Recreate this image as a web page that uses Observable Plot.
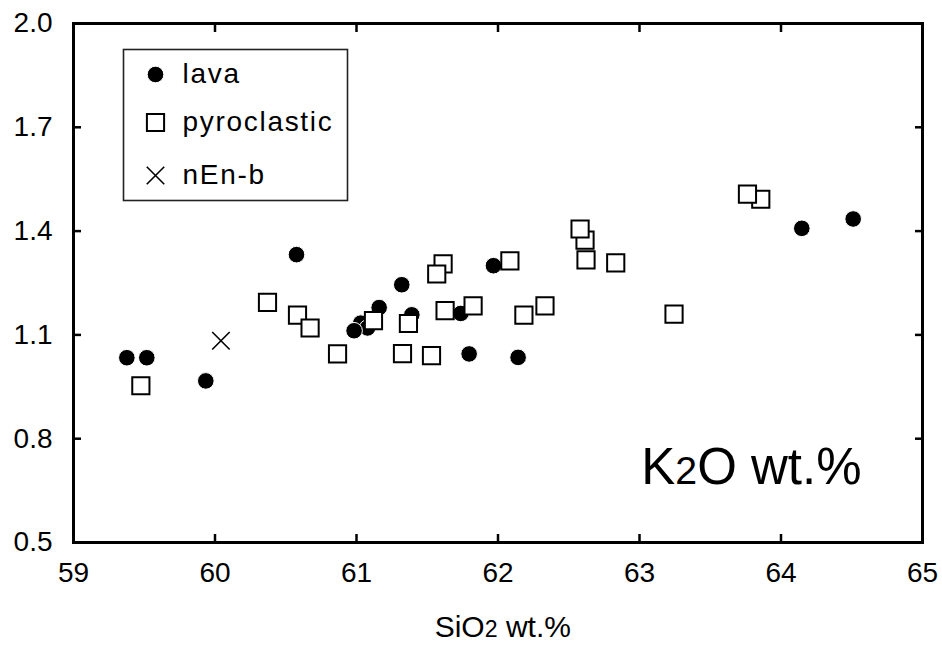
<!DOCTYPE html>
<html>
<head>
<meta charset="utf-8">
<script src="https://cdn.jsdelivr.net/npm/d3@7"></script>
<script src="https://cdn.jsdelivr.net/npm/@observablehq/plot@0.6"></script>
<style>
  html, body { margin: 0; padding: 0; background: #fff; }
  #chart svg { display: block; }
</style>
</head>
<body>
<div id="chart"></div>
<script>
// ---- data ----
const lavaSiO2 = [59.377, 59.518, 59.935, 60.576, 61.030, 61.078, 60.983, 61.160, 61.320, 61.391, 61.737, 61.968, 61.796, 62.142, 64.147, 64.510];
const lavaK2O  = [1.034, 1.034, 0.967, 1.332, 1.134, 1.120, 1.112, 1.179, 1.245, 1.158, 1.162, 1.300, 1.045, 1.035, 1.408, 1.435];

const pyroSiO2 = [59.476, 60.371, 60.583, 60.672, 60.866, 61.120, 61.612, 61.567, 61.626, 61.824, 61.367, 61.325, 61.530, 62.084, 62.183, 62.332, 62.622, 62.615, 62.580, 62.832, 63.244, 63.857, 63.763];
const pyroK2O  = [0.953, 1.194, 1.157, 1.120, 1.045, 1.141, 1.305, 1.276, 1.170, 1.184, 1.133, 1.046, 1.040, 1.314, 1.157, 1.184, 1.317, 1.374, 1.406, 1.308, 1.160, 1.492, 1.507];

const nEnSiO2 = [60.042];
const nEnK2O  = [1.083];

const seriesNames = ["lava", "pyroclastic", "nEn-b"];
const xTicks = [59, 60, 61, 62, 63, 64, 65];
const yTicks = [0.5, 0.8, 1.1, 1.4, 1.7, 2.0];
const xLabel = "SiO2 wt.%";
const panelLabel = "K2O wt.%";

// ---- tables ----
const lava = lavaSiO2.map((x, i) => ({x, y: lavaK2O[i]}));
const pyro = pyroSiO2.map((x, i) => ({x, y: pyroK2O[i]}));
const nEn = nEnSiO2.map((x, i) => ({x, y: nEnK2O[i]}));

const styleLava = {symbol: "circle", r: 8.3, fill: "black", stroke: "white", strokeWidth: 1};
const stylePyro = {symbol: "square", r: 9.7, fill: "white", stroke: "black", strokeWidth: 2};
const styleNEn  = {symbol: "times", r: 8, fill: "none", stroke: "black", strokeWidth: 1.6};
const legendStyles = [styleLava, stylePyro, styleNEn];
const legendDy = [51, 99, 152];

const legendMarks = [];
seriesNames.forEach((name, i) => {
  legendMarks.push(Plot.dot([name], {frameAnchor: "top-left", dx: 82, dy: legendDy[i], ...legendStyles[i]}));
  legendMarks.push(Plot.text([name], {text: d => d, frameAnchor: "top-left", dx: 109, dy: legendDy[i], textAnchor: "start", lineAnchor: "middle", fontSize: 28, fill: "black"}));
});

const chart = Plot.plot({
  width: 942,
  height: 646,
  marginLeft: 73,
  marginRight: 20,
  marginTop: 23,
  marginBottom: 104,
  x: {domain: [59, 65]},
  y: {domain: [0.5, 2.0]},
  style: {fontFamily: "'Liberation Sans', Arial, Helvetica, sans-serif", background: "white", color: "black"},
  marks: [
    // tick labels
    Plot.axisX(xTicks, {tickSize: 0, tickPadding: 20, fontSize: 28, label: null, tickFormat: d => String(d)}),
    Plot.axisY(yTicks, {tickSize: 0, tickPadding: 21, fontSize: 28, label: null, tickFormat: d => d.toFixed(1)}),
    // inward ticks on all four sides
    Plot.axisX(xTicks, {tickSize: 8, dy: -8, fill: "none", strokeWidth: 2.5, label: null}),
    Plot.axisX(xTicks, {anchor: "top", tickSize: 8, dy: 8, fill: "none", strokeWidth: 2.5, label: null}),
    Plot.axisY(yTicks, {tickSize: 8, dx: 8, fill: "none", strokeWidth: 2.5, label: null}),
    Plot.axisY(yTicks, {anchor: "right", tickSize: 8, dx: -8, fill: "none", strokeWidth: 2.5, label: null}),
    Plot.frame({stroke: "black", strokeWidth: 3}),
    // data
    Plot.dot(lava, {x: "x", y: "y", ...styleLava}),
    Plot.dot(pyro, {x: "x", y: "y", ...stylePyro}),
    Plot.dot(nEn, {x: "x", y: "y", ...styleNEn}),
    // legend box and entries
    Plot.frame({insetLeft: 50, insetTop: 26, insetRight: 575, insetBottom: 342, stroke: "#222", strokeWidth: 1.6}),
    ...legendMarks,
    // panel label and x-axis title
    Plot.text([panelLabel], {text: d => d, frameAnchor: "bottom-right", dx: -61, dy: -58.7, textAnchor: "end", lineAnchor: "bottom", fontSize: 51, fill: "black"}),
    Plot.text([xLabel], {text: d => d, frameAnchor: "bottom", dx: 4.8, dy: 94.7, textAnchor: "middle", lineAnchor: "bottom", fontSize: 30, fill: "black"})
  ]
});

// subscripts in chemical formulas, and wider legend lettering
chart.querySelectorAll("text").forEach(t => {
  const s = t.textContent;
  if (s === xLabel || s === panelLabel) {
    const m = s.match(/^([A-Za-z]+)2(.*)$/);
    if (m) {
      t.textContent = "";
      const ns = "http://www.w3.org/2000/svg";
      const a = document.createElementNS(ns, "tspan"); a.textContent = m[1];
      const b = document.createElementNS(ns, "tspan"); b.textContent = "2"; b.setAttribute("font-size", "0.77em");
      const c = document.createElementNS(ns, "tspan"); c.textContent = m[2];
      t.append(a, b, c);
    }
  } else if (seriesNames.includes(s)) {
    t.setAttribute("letter-spacing", "1.7");
  }
});

document.getElementById("chart").append(chart);
</script>
</body>
</html>
